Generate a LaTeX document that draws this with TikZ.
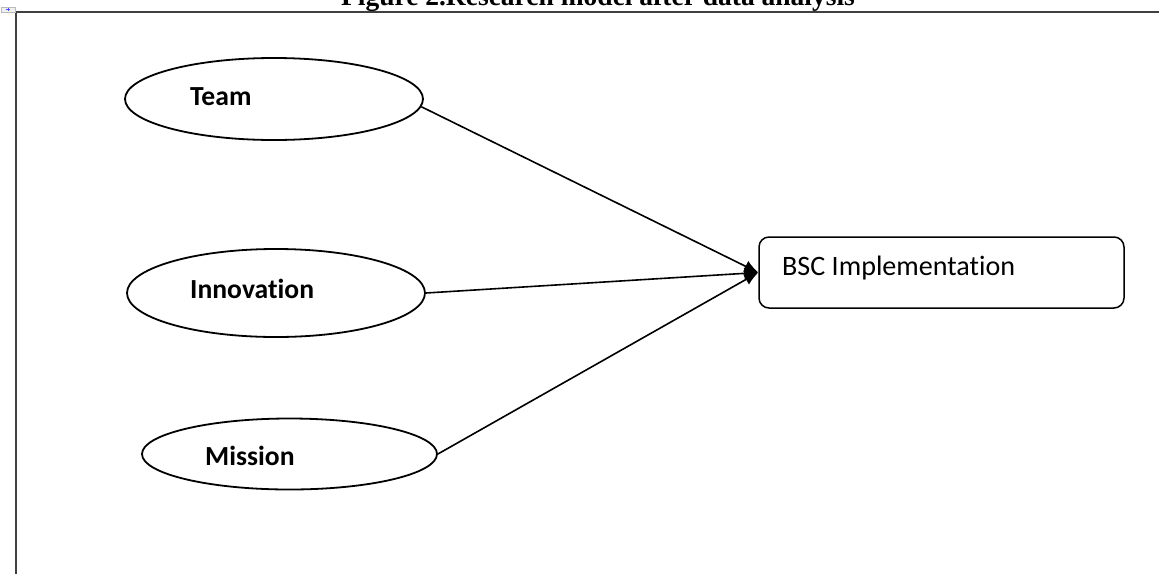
\documentclass[tikz,border=0pt]{standalone}
\usepackage{fontspec}
\setmainfont{Carlito}[Ligatures=NoCommon]
\newfontfamily\titlefont{Liberation Serif}
\usetikzlibrary{shapes.geometric,arrows.meta}
\tikzset{
  oval/.style={draw=black, line width=1.8pt, ellipse, inner sep=0pt},
  ovaltext/.style={anchor=base west, inner sep=0pt, font=\fontsize{27.6}{30}\selectfont\bfseries},
  target/.style={draw=black, line width=1.5pt, rounded corners=10pt, minimum width=365pt, minimum height=71pt, inner sep=0pt},
  link/.style={draw=black, line width=1.6pt, -{Latex[length=14pt,width=12pt]}},
  frame/.style={line width=1.5pt, draw=black!75}
}
\begin{document}
\begin{tikzpicture}[x=1pt,y=-1pt]
\useasboundingbox (0,0) rectangle (1159,574);
\fill[white] (0,0) rectangle (1159,574);
\begin{scope}
\clip (0,0) rectangle (1159,574);
\node[anchor=base, inner sep=0pt, font=\titlefont\bfseries\fontsize{27.5}{30}\selectfont] (title) at (598,5) {Figure 2.Research model after data analysis};
\end{scope}
% frame
\draw[frame] (16,12) -- (1159,12);
\draw[frame] (16,12) -- (16,574);
\draw[fill=gray!12, draw=gray!55, line width=0.5pt] (1,7) rectangle (15,12);
\draw[blue!70, line width=0.8pt] (6,9.5) -- (10,9.5) (8,8) -- (8,11);
% nodes
\node[oval, minimum width=298pt, minimum height=82pt] (team) at (274,99) {};
\node[ovaltext] (teamtext) at (190,105) {Team};
\node[oval, minimum width=298pt, minimum height=88pt] (innov) at (276,293) {};
\node[ovaltext] (innovtext) at (190,298) {Innovation};
\node[oval, minimum width=295pt, minimum height=71pt] (mission) at (289.5,454) {};
\node[ovaltext] (missiontext) at (205,465) {Mission};
\node[target] (bsc) at (941.5,272.5) {};
\node[anchor=base west, inner sep=0pt, font=\fontsize{28.1}{30}\selectfont] (bsctext) at (782,275) {BSC Implementation};
% connectors
\draw[link] (team.-3) -- (bsc.west);
\draw[link] (innov.east) -- (bsc.west);
\draw[link] (mission.east) -- (bsc.west);
\end{tikzpicture}
\end{document}
